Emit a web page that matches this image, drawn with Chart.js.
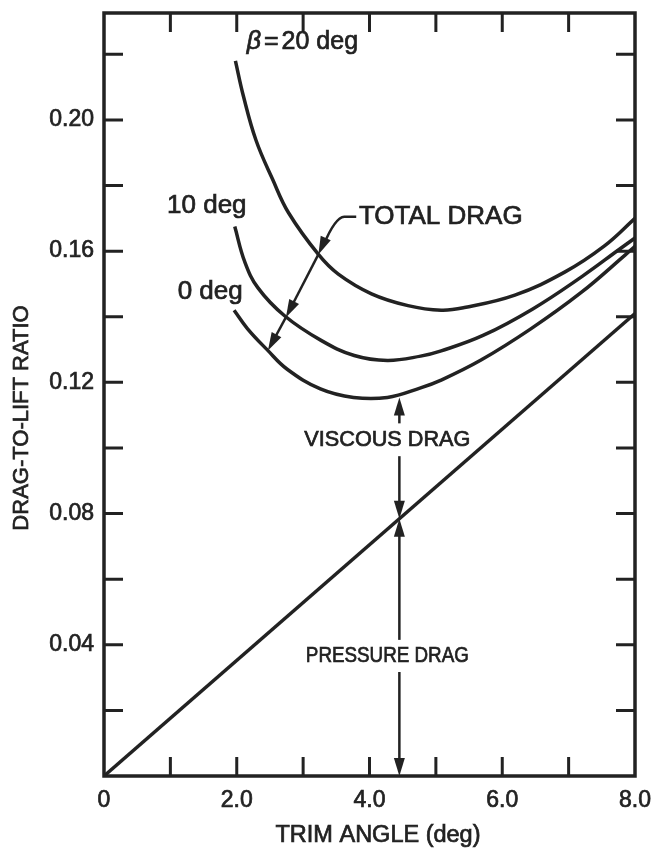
<!DOCTYPE html>
<html>
<head>
<meta charset="utf-8">
<script src="https://cdn.jsdelivr.net/npm/chart.js@4.4.1/dist/chart.umd.min.js"></script>
<style>
  html, body { margin: 0; padding: 0; background: #fff; }
  #wrap { width: 656px; height: 851px; }
</style>
</head>
<body>
<div id="wrap"><canvas id="dragChart"></canvas></div>
<script>
// values: trim angle (deg) vs drag-to-lift ratio
const beta20X = [1.98, 2.10, 2.29, 2.54, 2.78, 3.23, 3.53, 4.03, 4.58, 5.08, 5.43, 6.19, 6.94, 7.54, 8.0];
const beta20Y = [0.2180, 0.2073, 0.1938, 0.1819, 0.1717, 0.1590, 0.1530, 0.1470, 0.1434, 0.1420, 0.1428, 0.1466, 0.1536, 0.1616, 0.1700];

const beta10X = [1.97, 2.12, 2.32, 2.72, 3.27, 3.77, 4.27, 4.77, 5.08, 5.71, 6.46, 7.21, 7.76, 8.0];
const beta10Y = [0.1675, 0.1568, 0.1488, 0.1403, 0.1328, 0.1282, 0.1267, 0.1280, 0.1296, 0.1343, 0.1424, 0.1524, 0.1605, 0.1640];

const beta0X = [1.96, 2.16, 2.46, 2.76, 3.26, 3.76, 4.27, 4.77, 5.07, 5.68, 6.43, 7.19, 7.85, 8.0];
const beta0Y = [0.1420, 0.1364, 0.1299, 0.1240, 0.1180, 0.1154, 0.1154, 0.1183, 0.1206, 0.1268, 0.1363, 0.1474, 0.1588, 0.1615];

// pressure drag is a straight line from the origin
const pressureX = [0, 8];
const pressureY = [0, 0.141];

const xTickValues = [0, 2, 4, 6, 8];
const yTickValues = [0.04, 0.08, 0.12, 0.16, 0.20];
const xMinorTicks = [1, 2, 3, 4, 5, 6, 7];
const yMinorTicks = [0.02, 0.04, 0.06, 0.08, 0.10, 0.12, 0.14, 0.16, 0.18, 0.20, 0.22];

const ink = '#222';
const FONT = '"Liberation Sans", Arial, sans-serif';

function toPoints(xs, ys) {
  return xs.map((x, i) => ({ x: x, y: ys[i] }));
}

function curve(label, xs, ys) {
  return {
    label: label,
    data: toPoints(xs, ys),
    borderColor: ink,
    borderWidth: 3.5,
    pointRadius: 0,
    tension: 0.4,
    fill: false
  };
}

// filled arrow head, tip at (tx, ty), pointing away from (fx, fy)
function arrowHead(ctx, fx, fy, tx, ty) {
  const len = 18, half = 5.5;
  const a = Math.atan2(ty - fy, tx - fx);
  const bx = tx - len * Math.cos(a), by = ty - len * Math.sin(a);
  ctx.beginPath();
  ctx.moveTo(tx, ty);
  ctx.lineTo(bx + half * Math.sin(a), by - half * Math.cos(a));
  ctx.lineTo(bx - half * Math.sin(a), by + half * Math.cos(a));
  ctx.closePath();
  ctx.fill();
}

// straight arrow, shaft stops inside the head
function arrow(ctx, fx, fy, tx, ty) {
  const a = Math.atan2(ty - fy, tx - fx);
  ctx.beginPath();
  ctx.moveTo(fx, fy);
  ctx.lineTo(tx - 10 * Math.cos(a), ty - 10 * Math.sin(a));
  ctx.stroke();
  arrowHead(ctx, fx, fy, tx, ty);
}

// text with a hairline stroke so it looks like the printed original
function inkText(ctx, text, x, y, maxW) {
  ctx.lineWidth = 0.7;
  if (maxW) {
    ctx.fillText(text, x, y, maxW);
    ctx.strokeText(text, x, y, maxW);
  } else {
    ctx.fillText(text, x, y);
    ctx.strokeText(text, x, y);
  }
}

const framePlugin = {
  id: 'frameAndNotes',
  afterDatasetsDraw(chart) {
    const { ctx, chartArea: ca } = chart;
    const xs = chart.scales.x, ys = chart.scales.y;
    const px = v => xs.getPixelForValue(v);
    const py = v => ys.getPixelForValue(v);

    ctx.save();
    ctx.strokeStyle = ink;
    ctx.fillStyle = ink;

    // box with inward ticks on all four sides
    ctx.lineWidth = 3.5;
    ctx.strokeRect(ca.left, ca.top, ca.right - ca.left, ca.bottom - ca.top);
    const tl = 19;
    ctx.lineWidth = 3;
    ctx.beginPath();
    xMinorTicks.forEach(v => {
      const x = px(v);
      ctx.moveTo(x, ca.bottom); ctx.lineTo(x, ca.bottom - tl);
      ctx.moveTo(x, ca.top); ctx.lineTo(x, ca.top + tl);
    });
    yMinorTicks.forEach(v => {
      const y = py(v);
      ctx.moveTo(ca.left, y); ctx.lineTo(ca.left + tl, y);
      ctx.moveTo(ca.right, y); ctx.lineTo(ca.right - tl, y);
    });
    ctx.stroke();

    // axis titles
    ctx.textBaseline = 'middle';
    ctx.textAlign = 'center';
    ctx.font = '23.5px ' + FONT;
    inkText(ctx, 'TRIM ANGLE (deg)', 378, 836);
    ctx.save();
    ctx.translate(22, 418);
    ctx.rotate(-Math.PI / 2);
    ctx.font = '22px ' + FONT;
    inkText(ctx, 'DRAG-TO-LIFT RATIO', 0, 0);
    ctx.restore();

    // curve labels
    ctx.textAlign = 'left';
    ctx.font = 'italic 25px ' + FONT;
    const bx = px(2.15), by = py(0.2237);
    inkText(ctx, '\u03b2', bx, by);
    let cx = bx + ctx.measureText('\u03b2').width + 3;
    ctx.font = '25px ' + FONT;
    inkText(ctx, '=', cx, by);
    cx += ctx.measureText('=').width + 3;
    inkText(ctx, '20 deg', cx, by);
    ctx.font = '26px ' + FONT;
    inkText(ctx, '10 deg', px(0.95), py(0.1738));
    inkText(ctx, '0 deg', px(1.11), py(0.1475));

    // TOTAL DRAG leader, chained through the three curves
    inkText(ctx, 'TOTAL DRAG', px(3.84), py(0.1705));
    ctx.lineWidth = 2.5;
    const t1 = [px(3.23), py(0.1590)];
    const t2 = [px(2.74), py(0.1398)];
    const t3 = [px(2.47), py(0.1297)];
    const c1 = [px(3.48), py(0.1703)];
    ctx.beginPath();
    ctx.moveTo(px(3.80), py(0.1705));
    ctx.lineTo(px(3.62), py(0.1705));
    ctx.quadraticCurveTo(c1[0], c1[1], t1[0] + 5, t1[1] - 9);
    ctx.stroke();
    arrowHead(ctx, c1[0], c1[1], t1[0], t1[1]);
    arrow(ctx, t1[0], t1[1], t2[0], t2[1]);
    arrow(ctx, t2[0], t2[1], t3[0], t3[1]);

    // viscous / pressure drag markers
    const ax = px(4.45);
    const yLine = py(pressureY[1] / pressureX[1] * 4.45);
    ctx.textAlign = 'center';
    ctx.font = '22px ' + FONT;
    inkText(ctx, 'VISCOUS DRAG', ax - 12, py(0.1025), 166);
    inkText(ctx, 'PRESSURE DRAG', ax - 12, py(0.0366), 163);
    ctx.lineWidth = 2.5;
    arrow(ctx, ax, py(0.1075), ax, py(0.1154));
    arrow(ctx, ax, py(0.0975), ax, yLine);
    arrow(ctx, ax, py(0.0415), ax, yLine);
    arrow(ctx, ax, py(0.0317), ax, ca.bottom);

    ctx.restore();
  }
};

new Chart(document.getElementById('dragChart').getContext('2d'), {
  type: 'line',
  data: {
    datasets: [
      curve('beta 20', beta20X, beta20Y),
      curve('beta 10', beta10X, beta10Y),
      curve('beta 0', beta0X, beta0Y),
      {
        label: 'pressure',
        data: toPoints(pressureX, pressureY),
        borderColor: ink,
        borderWidth: 3.5,
        pointRadius: 0,
        tension: 0
      }
    ]
  },
  options: {
    responsive: true,
    maintainAspectRatio: false,
    animation: false,
    layout: { padding: { top: 13, right: 21, left: 0, bottom: 0 } },
    plugins: {
      legend: { display: false },
      tooltip: { enabled: false }
    },
    scales: {
      x: {
        type: 'linear',
        min: 0,
        max: 8,
        afterBuildTicks: s => { s.ticks = xTickValues.map(v => ({ value: v })); },
        afterFit: s => { s.height = 75; s.paddingLeft = 0; s.paddingRight = 0; },
        ticks: {
          callback: v => v === 0 ? '0' : v.toFixed(1),
          font: { family: FONT, size: 23 },
          color: ink,
          textStrokeColor: ink,
          textStrokeWidth: 0.7,
          padding: 11,
          maxRotation: 0,
          autoSkip: false
        },
        grid: { display: false, drawTicks: false },
        border: { display: false }
      },
      y: {
        type: 'linear',
        min: 0,
        max: 0.2326,
        afterBuildTicks: s => { s.ticks = yTickValues.map(v => ({ value: v })); },
        afterFit: s => { s.width = 104; s.paddingTop = 0; s.paddingBottom = 0; },
        ticks: {
          callback: v => v.toFixed(2),
          font: { family: FONT, size: 23 },
          color: ink,
          textStrokeColor: ink,
          textStrokeWidth: 0.7,
          padding: 10
        },
        grid: { display: false, drawTicks: false },
        border: { display: false }
      }
    }
  },
  plugins: [framePlugin]
});
</script>
</body>
</html>
